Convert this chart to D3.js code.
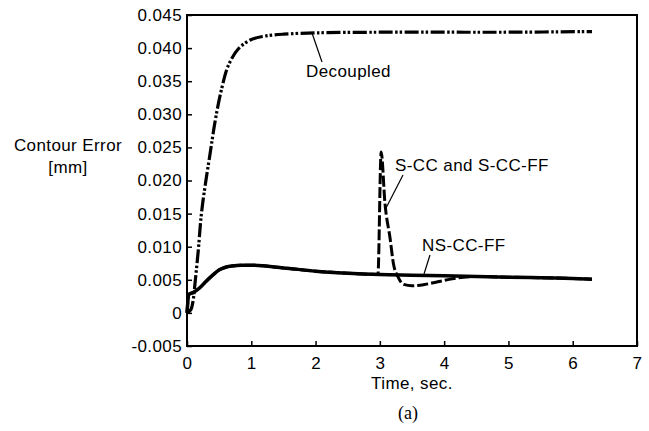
<!DOCTYPE html>
<html>
<head>
<meta charset="utf-8">
<script src="https://cdn.jsdelivr.net/npm/d3@7/dist/d3.min.js"></script>
<style>
  html, body { margin: 0; padding: 0; background: #fff; }
  svg { display: block; }
  text { font-family: "Liberation Sans", Arial, Helvetica, sans-serif; fill: #000; }
</style>
</head>
<body>
<svg id="chart" width="649" height="431"></svg>
<script>
// ---- Data ----
const xTicks = [0, 1, 2, 3, 4, 5, 6, 7];
const yTicks = [-0.005, 0, 0.005, 0.010, 0.015, 0.020, 0.025, 0.030, 0.035, 0.040, 0.045];
const yTickLabels = ["-0.005", "0", "0.005", "0.010", "0.015", "0.020", "0.025", "0.030", "0.035", "0.040", "0.045"];

const decoupledT = [0, 0.06, 0.1, 0.125, 0.176, 0.22, 0.28, 0.36, 0.44, 0.54, 0.64, 0.8, 1.0, 1.2, 1.5, 2.0, 3.0, 4.0, 5.0, 6.3];
const decoupledV = [0, 0.0005, 0.0022, 0.0045, 0.0095, 0.0146, 0.0191, 0.0241, 0.0291, 0.0339, 0.0373, 0.0399, 0.0413, 0.0418, 0.0421, 0.0423, 0.0424, 0.0424, 0.0424, 0.0425];

const nsccffT = [0, 0.03, 0.1, 0.2, 0.3, 0.4, 0.5, 0.6, 0.7, 0.85, 1.0, 1.5, 2.0, 2.5, 3.0, 3.5, 4.0, 4.5, 5.0, 5.5, 6.0, 6.3];
const nsccffV = [0, 0.0028, 0.0031, 0.0038, 0.0048, 0.0057, 0.0065, 0.0069, 0.0071, 0.0072, 0.0072, 0.0068, 0.0063, 0.0060, 0.0058, 0.0057, 0.0056, 0.0055, 0.0054, 0.0053, 0.0052, 0.0051];

const sccT = [0, 0.03, 0.1, 0.2, 0.3, 0.4, 0.5, 0.6, 0.7, 0.85, 1.0, 1.5, 2.0, 2.5, 2.97, 3.02, 3.08, 3.16, 3.21, 3.29, 3.37, 3.5, 3.7, 3.9, 4.1, 4.3, 4.5, 5.0, 5.5, 6.0, 6.3];
const sccV = [0, 0.0028, 0.0031, 0.0038, 0.0048, 0.0057, 0.0065, 0.0069, 0.0071, 0.0072, 0.0072, 0.0068, 0.0063, 0.0060, 0.0058, 0.0243, 0.0165, 0.0112, 0.0075, 0.0053, 0.0043, 0.0041, 0.0043, 0.0047, 0.0051, 0.0054, 0.0055, 0.0054, 0.0053, 0.0052, 0.0051];

// ---- Layout ----
const L = 187, R = 637, T = 15, B = 346;
const svg = d3.select("#chart");
const x = d3.scaleLinear().domain([0, 7]).range([L, R]);
const y = d3.scaleLinear().domain([-0.005, 0.045]).range([B, T]);
const FS = 17;

// axes (inner ticks)
const gx = svg.append("g").attr("transform", `translate(0,${B})`)
  .call(d3.axisBottom(x).tickValues(xTicks).tickFormat(d3.format("d")).tickSize(-5).tickPadding(11));
const gy = svg.append("g").attr("transform", `translate(${L},0)`)
  .call(d3.axisLeft(y).tickValues(yTicks).tickFormat((d, i) => yTickLabels[i]).tickSize(-5).tickPadding(5));
[gx, gy].forEach(g => {
  g.select(".domain").remove();
  g.selectAll(".tick line").attr("stroke", "#000").attr("stroke-width", 1.5);
  g.selectAll(".tick text").style("font-size", FS + "px").style("letter-spacing", "0.4px")
    .attr("font-family", null).attr("fill", "#000");
});

// frame
svg.append("rect").attr("x", L).attr("y", T).attr("width", R - L).attr("height", B - T)
  .attr("fill", "none").attr("stroke", "#000").attr("stroke-width", 2);

// lines
const line = d3.line().x(d => x(d[0])).y(d => y(d[1])).curve(d3.curveMonotoneX);
const smooth = d3.line().x(d => x(d[0])).y(d => y(d[1])).curve(d3.curveCatmullRom.alpha(0.5));
const zip = (a, b) => a.map((t, i) => [t, b[i]]);

svg.append("path").datum(zip(nsccffT, nsccffV)).attr("d", line)
  .attr("fill", "none").attr("stroke", "#000").attr("stroke-width", 3.5).attr("stroke-linejoin", "round");

svg.append("path").datum(zip(sccT, sccV)).attr("d", line)
  .attr("fill", "none").attr("stroke", "#000").attr("stroke-width", 3)
  .attr("stroke-dasharray", "11,3");

svg.append("path").datum(zip(decoupledT, decoupledV)).attr("d", smooth)
  .attr("fill", "none").attr("stroke", "#000").attr("stroke-width", 3.2)
  .attr("stroke-dasharray", "14,2.5,2.5,2,2.5,2.5");

// annotations
function label(txt, tx, ty, x1, y1, x2, y2) {
  svg.append("text").attr("x", tx).attr("y", ty).text(txt)
    .style("font-size", FS + "px").style("letter-spacing", "0.4px");
  svg.append("line").attr("x1", x1).attr("y1", y1).attr("x2", x2).attr("y2", y2)
    .attr("stroke", "#000").attr("stroke-width", 1.2);
}
label("Decoupled", 306, 77, 312, 33, 322, 62);
label("S-CC and S-CC-FF", 395, 171, 403, 175, 385, 210);
label("NS-CC-FF", 422, 251, 430, 255, 424, 274);

// axis titles
svg.append("text").attr("x", 68).attr("y", 151).attr("text-anchor", "middle")
  .style("font-size", FS + "px").style("letter-spacing", "0.4px").text("Contour Error");
svg.append("text").attr("x", 68).attr("y", 173).attr("text-anchor", "middle")
  .style("font-size", FS + "px").style("letter-spacing", "0.4px").text("[mm]");
svg.append("text").attr("x", (L + R) / 2).attr("y", 389).attr("text-anchor", "middle")
  .style("font-size", FS + "px").style("letter-spacing", "0.4px").text("Time, sec.");
svg.append("text").attr("x", 408).attr("y", 419).attr("text-anchor", "middle")
  .style("font-family", "'Liberation Serif', 'Times New Roman', serif").style("font-size", "18px").text("(a)");
</script>
</body>
</html>
